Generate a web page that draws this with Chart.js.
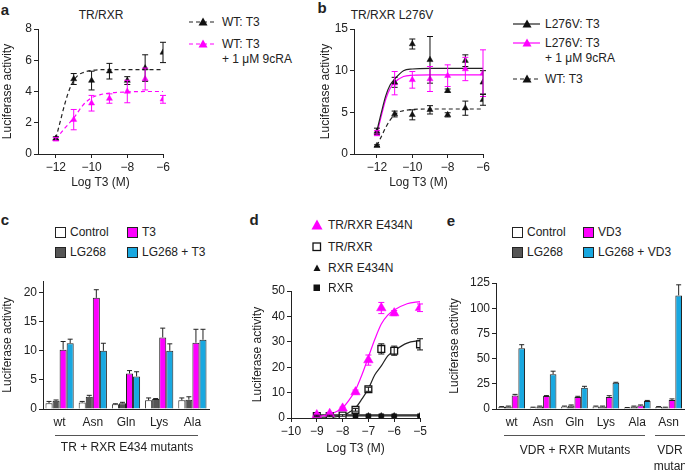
<!DOCTYPE html>
<html><head><meta charset="utf-8">
<script src="https://cdn.jsdelivr.net/npm/chart.js@4.4.1/dist/chart.umd.min.js"></script>
<style>
body{margin:0;width:685px;height:472px;position:relative;overflow:hidden;background:#fff;font-family:"Liberation Sans",Arial,sans-serif;color:#222}
canvas{position:absolute}
.t{position:absolute;font-size:12px;line-height:14px;height:14px;white-space:nowrap}
.c{transform:translateX(-50%)}
.L{position:absolute;font-size:15px;font-weight:bold;line-height:16px;transform:translate(-50%,-50%)}
svg{position:absolute;overflow:visible}
.box{position:absolute;width:9px;height:9px;border:1px solid #222}
.hl{position:absolute;height:1px;background:#555}
</style></head><body>

<!-- panel letters and titles -->
<div class="L" style="left:5px;top:10px">a</div>
<div class="L" style="left:322px;top:8px">b</div>
<div class="L" style="left:5px;top:220px">c</div>
<div class="L" style="left:254px;top:220px">d</div>
<div class="L" style="left:451px;top:221px">e</div>
<div class="t c" style="left:101px;top:8px">TR/RXR</div>
<div class="t c" style="left:392px;top:8px">TR/RXR L276V</div>

<canvas id="ca" width="175" height="178" style="left:0;top:16px"></canvas>
<canvas id="cb" width="178" height="178" style="left:318px;top:16px"></canvas>
<canvas id="cc" width="215" height="170" style="left:0;top:270px"></canvas>
<canvas id="cd" width="185" height="185" style="left:250px;top:275px"></canvas>
<canvas id="ce" width="238" height="170" style="left:447px;top:270px"></canvas>

<!-- legend a -->
<svg style="left:189px;top:16px" width="30" height="12"><line x1="0" y1="6" x2="28" y2="6" stroke="#222" stroke-width="1.2" stroke-dasharray="4,3"/><polygon points="14,1.5 18.5,9.5 9.5,9.5" fill="#111"/></svg>
<div class="t" style="left:222px;top:15px">WT: T3</div>
<svg style="left:189px;top:38px" width="30" height="12"><line x1="0" y1="6" x2="28" y2="6" stroke="#ff00ff" stroke-width="1.2" stroke-dasharray="4,3"/><polygon points="14,1.5 18.5,9.5 9.5,9.5" fill="#ff00ff"/></svg>
<div class="t" style="left:222px;top:37px">WT: T3</div>
<div class="t" style="left:222px;top:52px">+ 1 μM 9cRA</div>

<!-- legend b -->
<svg style="left:513px;top:18px" width="28" height="12"><line x1="0" y1="6" x2="27" y2="6" stroke="#222" stroke-width="1.2"/><polygon points="14,1.5 18.5,9.5 9.5,9.5" fill="#111"/></svg>
<div class="t" style="left:545px;top:17px">L276V: T3</div>
<svg style="left:513px;top:37px" width="28" height="12"><line x1="0" y1="6" x2="27" y2="6" stroke="#ff00ff" stroke-width="1.2"/><polygon points="14,1.5 18.5,9.5 9.5,9.5" fill="#ff00ff"/></svg>
<div class="t" style="left:545px;top:36px">L276V: T3</div>
<div class="t" style="left:545px;top:51px">+ 1 μM 9cRA</div>
<svg style="left:513px;top:73px" width="28" height="12"><line x1="0" y1="6" x2="27" y2="6" stroke="#222" stroke-width="1.2" stroke-dasharray="4,3"/><polygon points="14,1.5 18.5,9.5 9.5,9.5" fill="#111"/></svg>
<div class="t" style="left:545px;top:72px">WT: T3</div>

<!-- legend c -->
<div class="box" style="left:55px;top:227px;background:#fff"></div>
<div class="t" style="left:70px;top:225px">Control</div>
<div class="box" style="left:127px;top:227px;background:#ff00ff"></div>
<div class="t" style="left:142px;top:225px">T3</div>
<div class="box" style="left:55px;top:247px;background:#555"></div>
<div class="t" style="left:70px;top:245px">LG268</div>
<div class="box" style="left:127px;top:247px;background:#19a8e0"></div>
<div class="t" style="left:142px;top:245px">LG268 + T3</div>
<div class="hl" style="left:55px;top:435px;width:143px"></div>
<div class="t c" style="left:127px;top:440px">TR + RXR E434 mutants</div>

<!-- legend d -->
<svg style="left:311px;top:219px" width="12" height="12"><polygon points="6,0.5 11.5,10.5 0.5,10.5" fill="#ff00ff"/></svg>
<div class="t" style="left:328px;top:218px">TR/RXR E434N</div>
<svg style="left:311px;top:241px" width="12" height="12"><rect x="2" y="2" width="7.5" height="7.5" fill="#fff" stroke="#111" stroke-width="1.3"/></svg>
<div class="t" style="left:328px;top:240px">TR/RXR</div>
<svg style="left:311px;top:262px" width="12" height="12"><polygon points="6,2.5 9.5,9 2.5,9" fill="#111"/></svg>
<div class="t" style="left:328px;top:261px">RXR E434N</div>
<svg style="left:311px;top:282px" width="12" height="12"><rect x="2.5" y="2.5" width="6.5" height="6.5" fill="#111"/></svg>
<div class="t" style="left:328px;top:281px">RXR</div>

<!-- legend e -->
<div class="box" style="left:512px;top:227px;background:#fff"></div>
<div class="t" style="left:527px;top:225px">Control</div>
<div class="box" style="left:583px;top:227px;background:#ff00ff"></div>
<div class="t" style="left:598px;top:225px">VD3</div>
<div class="box" style="left:512px;top:247px;background:#555"></div>
<div class="t" style="left:527px;top:245px">LG268</div>
<div class="box" style="left:583px;top:247px;background:#19a8e0"></div>
<div class="t" style="left:598px;top:245px">LG268 + VD3</div>
<div class="hl" style="left:504px;top:435px;width:141px"></div>
<div class="t c" style="left:575px;top:443px">VDR + RXR Mutants</div>
<div class="hl" style="left:655px;top:435px;width:30px"></div>
<div class="t c" style="left:670px;top:443px">VDR</div>
<div class="t c" style="left:672px;top:459px">mutant</div>

<script>
// ---------- Panel a / b : dose response (log M) ----------
const doseAB = [-12, -11, -10, -9, -8, -7, -6];
const xTicksAB = [-12, -10, -8, -6];
const yTicksA = [0, 2, 4, 6, 8];
const yTicksB = [0, 5, 10, 15];

const wtT3 = [1.0, 4.8, 4.7, 5.3, 4.7, 5.5, 6.5];
const wtT3Err = [0.1, 0.35, 0.6, 0.5, 0.25, 0.85, 0.65];
const wtT3Rx = [0.95, 2.2, 3.25, 3.55, 4.0, 4.8, 3.5];
const wtT3RxErr = [0.1, 0.65, 0.5, 0.3, 0.72, 0.7, 0.25];

const fitDoseWt = [-12, -11.75, -11.5, -11.25, -11, -10.75, -10.5, -10, -9, -8, -7, -6];
const wtT3Fit = [1.0, 2.1, 3.2, 4.1, 4.7, 5.05, 5.2, 5.35, 5.4, 5.4, 5.4, 5.4];
const fitDoseWtRx = [-12, -11.5, -11, -10.5, -10, -9.5, -9, -8, -7, -6];
const wtT3RxFit = [0.95, 1.65, 2.3, 3.1, 3.6, 3.8, 3.9, 3.97, 4.0, 4.0];

const l276T3 = [2.7, 8.6, 13.2, 11.3, 7.6, 11.2, 8.6];
const l276T3Err = [0.4, 0.6, 0.6, 2.8, 0.2, 0.7, 1.4];
const l276Rx = [2.5, 8.5, 8.9, 9.0, 9.4, 10.2, 9.7];
const l276RxErr = [0.3, 1.4, 1.0, 1.5, 1.3, 1.4, 2.8];
const fitDoseL276 = [-12, -11.75, -11.5, -11.25, -11, -10.5, -10, -9, -8, -7, -6];
const l276T3Fit = [2.8, 5.0, 7.0, 8.3, 9.0, 10.0, 10.2, 10.28, 10.28, 10.28, 10.28];
const l276RxFit = [2.4, 4.6, 6.6, 7.9, 8.6, 9.3, 9.45, 9.5, 9.5, 9.5, 9.5];

// ---------- Panel c : TR + RXR E434 mutants ----------
const mutC = ['wt', 'Asn', 'Gln', 'Lys', 'Ala'];
const yTicksC = [0, 5, 10, 15, 20];
const cControl = [1.0, 1.1, 0.8, 1.5, 1.5];
const cControlErr = [0.3, 0.2, 0.1, 0.4, 0.4];
const cLG = [1.4, 2.1, 1.0, 1.7, 1.6];
const cLGErr = [0.15, 0.25, 0.15, 0.1, 0.5];
const cT3 = [10.2, 19.1, 6.1, 12.3, 11.4];
const cT3Err = [1.4, 1.4, 0.5, 1.6, 2.3];
const cLGT3 = [11.3, 10.0, 5.6, 10.0, 11.9];
const cLGT3Err = [0.7, 1.3, 0.8, 1.2, 1.8];

// ---------- Panel d ----------
const doseD = [-9, -8.5, -8, -7.5, -7, -6.5, -6, -5];
const xTicksD = [-10, -9, -8, -7, -6, -5];
const yTicksD = [0, 10, 20, 30, 40, 50];
const trE434N = [1.2, 1.7, 3.8, 10.2, 22.8, 43.3, 41.3, 43.4];
const trE434NErr = [0.5, 0.5, 0.5, 0.8, 2.0, 2.2, 1.0, 1.5];
const trRxr = [0.8, 0.8, 1.0, 3.2, 11.3, 27.2, 26.5, 29.0];
const trRxrErr = [0.3, 0.3, 0.3, 0.5, 0.8, 2.0, 1.8, 2.2];
const rxrE434N = [1.0, 1.0, 1.0, 1.0, 1.0, 1.0, 1.0, 1.0];
const rxrOnly = [0.7, 0.7, 0.7, 0.7, 0.7, 0.7, 0.7, 0.7];
const fitDoseD = [-9, -8.5, -8, -7.75, -7.5, -7.25, -7, -6.75, -6.5, -6.25, -6, -5.5, -5];
const trE434NFit = [0.5, 1.5, 4.0, 7.0, 11.0, 17.0, 24.0, 31.0, 37.0, 40.5, 42.5, 45.0, 45.8];
const trRxrFit = [0.0, 0.2, 1.0, 2.2, 4.0, 7.5, 11.5, 17.0, 20.5, 24.5, 26.5, 29.5, 30.5];
const flatDose = [-9.1, -5];
const rxrE434NFit = [1.2, 1.2];
const rxrOnlyFit = [0.8, 0.8];

// ---------- Panel e : VDR + RXR mutants ----------
const mutE = ['wt', 'Asn', 'Gln', 'Lys', 'Ala', 'Asn'];
const yTicksE = [0, 25, 50, 75, 100, 125];
const eControl = [2.0, 1.5, 2.5, 2.5, 1.2, 2.0];
const eControlErr = [0.4, 0.3, 0.4, 0.4, 0.3, 0.4];
const eLG = [2.5, 2.5, 3.5, 2.5, 2.5, 1.5];
const eLGErr = [0.4, 0.4, 0.5, 0.4, 0.4, 0.3];
const eVD3 = [13.5, 12.8, 12.0, 12.0, 3.5, 9.0];
const eVD3Err = [1.0, 0.5, 0.6, 1.2, 0.5, 1.0];
const eLGVD3 = [60.3, 34.5, 21.0, 26.0, 8.0, 112.7];
const eLGVD3Err = [3.5, 3.0, 1.5, 0.5, 0.5, 10.5];

// ---------- styling ----------
const FONT = '"Liberation Sans", Arial, sans-serif';
const AX = '#222';
const MAG = '#ff00ff';
const BLUE = '#19a8e0';
const GRAY = '#555555';
Chart.defaults.font.family = FONT;
Chart.defaults.font.size = 12;
Chart.defaults.color = AX;
Chart.defaults.animation = false;

const fmt = v => String(v).replace('-', '\u2212');

function linScale(min, max, ticks, fitSize, isY, title, drawTicks = true) {
  return {
    type: 'linear', min, max,
    afterBuildTicks: s => { s.ticks = ticks.map(v => ({ value: v })); },
    afterFit: s => { if (isY) s.width = fitSize; else s.height = fitSize; },
    grid: { display: true, drawOnChartArea: false, drawTicks, tickLength: 4, color: AX, lineWidth: 1 },
    border: { display: true, color: AX, width: 1 },
    ticks: { color: AX, font: { size: 12 }, padding: 2, autoSkip: false, maxRotation: 0, callback: v => fmt(v) },
    title: title ? { display: true, text: title, color: AX, font: { size: 12 }, padding: { top: 0, bottom: 4 } } : { display: false }
  };
}
function catScale(fitSize) {
  return {
    type: 'category', offset: true,
    afterFit: s => { s.height = fitSize; },
    grid: { display: true, drawOnChartArea: false, drawTicks: false, color: AX },
    border: { display: true, color: AX, width: 1 },
    ticks: { color: AX, font: { size: 12 }, padding: 6, autoSkip: false, maxRotation: 0 }
  };
}

const errorBars = {
  id: 'errorBars',
  afterDatasetsDraw(chart) {
    const ctx = chart.ctx, yS = chart.scales.y;
    chart.data.datasets.forEach((ds, i) => {
      if (!ds.errors) return;
      const meta = chart.getDatasetMeta(i);
      meta.data.forEach((el, j) => {
        const err = ds.errors[j];
        if (!err) return;
        const raw = ds.data[j];
        const v = typeof raw === 'object' ? raw.y : raw;
        const x = el.x;
        const yTop = yS.getPixelForValue(v + err);
        const yBot = ds.upOnly ? yS.getPixelForValue(v) : yS.getPixelForValue(v - err);
        const cap = ds.cap || 3;
        ctx.save();
        ctx.strokeStyle = ds.errColor || AX;
        ctx.lineWidth = 1;
        ctx.beginPath();
        ctx.moveTo(x, yTop); ctx.lineTo(x, yBot);
        ctx.moveTo(x - cap, yTop); ctx.lineTo(x + cap, yTop);
        if (!ds.upOnly) { ctx.moveTo(x - cap, yBot); ctx.lineTo(x + cap, yBot); }
        ctx.stroke();
        ctx.restore();
      });
    });
  }
};

const pts = (xs, ys) => xs.map((x, i) => ({ x, y: ys[i] }));

function pointSet(xs, ys, errs, color, style, r, fill) {
  return {
    data: pts(xs, ys), showLine: false, errors: errs, errColor: color, cap: 3,
    pointStyle: style, pointRadius: r, pointHoverRadius: r,
    pointBackgroundColor: fill || color, pointBorderColor: color, pointBorderWidth: fill ? 1.3 : 0.5
  };
}
function fitSet(xs, ys, color, dashed) {
  return {
    data: pts(xs, ys), showLine: true, pointRadius: 0, borderColor: color, borderWidth: 1.2,
    borderDash: dashed ? [4, 3] : [], cubicInterpolationMode: 'monotone', fill: false
  };
}

const baseOpts = (pad) => ({
  responsive: false, animation: false,
  layout: { padding: pad },
  plugins: { legend: { display: false }, tooltip: { enabled: false } },
  events: []
});

// Panel a
new Chart(document.getElementById('ca'), {
  type: 'scatter',
  data: { datasets: [
    pointSet(doseAB, wtT3, wtT3Err, '#111', 'triangle', 3.5),
    pointSet(doseAB, wtT3Rx, wtT3RxErr, MAG, 'triangle', 3.5),
    fitSet(fitDoseWt, wtT3Fit, '#222', true),
    fitSet(fitDoseWtRx, wtT3RxFit, MAG, true)
  ] },
  options: Object.assign(baseOpts({ top: 13, right: 12, left: 0, bottom: 0 }), {
    scales: {
      x: linScale(-13, -6, xTicksAB, 40, false, 'Log T3 (M)'),
      y: linScale(0, 8, yTicksA, 38, true, 'Luciferase activity')
    }
  }),
  plugins: [errorBars]
});

// Panel b
new Chart(document.getElementById('cb'), {
  type: 'scatter',
  data: { datasets: [
    pointSet(doseAB, l276T3, l276T3Err, '#111', 'triangle', 3.5),
    pointSet(doseAB, l276Rx, l276RxErr, MAG, 'triangle', 3.5),
    pointSet(doseAB, wtT3, wtT3Err, '#111', 'triangle', 3.5),
    fitSet(fitDoseL276, l276T3Fit, '#222', false),
    fitSet(fitDoseL276, l276RxFit, MAG, false),
    fitSet(fitDoseWt, wtT3Fit, '#222', true)
  ] },
  options: Object.assign(baseOpts({ top: 13, right: 13, left: 0, bottom: 0 }), {
    scales: {
      x: linScale(-13.3, -6, xTicksAB, 40, false, 'Log T3 (M)'),
      y: linScale(0, 15, yTicksB, 36, true, 'Luciferase activity')
    }
  }),
  plugins: [errorBars]
});

function barSet(vals, errs, color) {
  return { data: vals, errors: errs, upOnly: true, cap: 2.5, errColor: AX,
    backgroundColor: color, borderColor: AX, borderWidth: 1,
    categoryPercentage: 0.85, barPercentage: 1.0 };
}

// Panel c
new Chart(document.getElementById('cc'), {
  type: 'bar',
  data: { labels: mutC, datasets: [
    barSet(cControl, cControlErr, '#ffffff'),
    barSet(cLG, cLGErr, GRAY),
    barSet(cT3, cT3Err, MAG),
    barSet(cLGT3, cLGT3Err, BLUE)
  ] },
  options: Object.assign(baseOpts({ top: 11, right: 6, left: 0, bottom: 0 }), {
    scales: {
      x: catScale(31),
      y: linScale(0, 22, yTicksC, 43, true, 'Luciferase activity')
    }
  }),
  plugins: [errorBars]
});

// Panel d
new Chart(document.getElementById('cd'), {
  type: 'scatter',
  data: { datasets: [
    pointSet(doseD, trE434N, trE434NErr, MAG, 'triangle', 5.5),
    pointSet(doseD, trRxr, trRxrErr, '#111', 'rect', 4.8, '#ffffff'),
    pointSet(doseD, rxrE434N, null, '#111', 'triangle', 3),
    pointSet(doseD, rxrOnly, null, '#111', 'rect', 3.5),
    fitSet(fitDoseD, trE434NFit, MAG, false),
    fitSet(fitDoseD, trRxrFit, '#222', false),
    fitSet(flatDose, rxrE434NFit, '#222', false),
    fitSet(flatDose, rxrOnlyFit, '#222', false)
  ] },
  options: Object.assign(baseOpts({ top: 16, right: 15, left: 0, bottom: 0 }), {
    scales: {
      x: linScale(-10, -5, xTicksD, 42, false, 'Log T3 (M)'),
      y: linScale(0, 50, yTicksD, 41, true, 'Luciferase activity')
    }
  }),
  plugins: [errorBars]
});

// Panel e
new Chart(document.getElementById('ce'), {
  type: 'bar',
  data: { labels: mutE, datasets: [
    barSet(eControl, eControlErr, '#ffffff'),
    barSet(eLG, eLGErr, GRAY),
    barSet(eVD3, eVD3Err, MAG),
    barSet(eLGVD3, eLGVD3Err, BLUE)
  ] },
  options: Object.assign(baseOpts({ top: 13, right: 0, left: 0, bottom: 0 }), {
    scales: {
      x: catScale(31),
      y: linScale(0, 125, yTicksE, 49, true, 'Luciferase activity')
    }
  }),
  plugins: [errorBars]
});
</script>
</body></html>
